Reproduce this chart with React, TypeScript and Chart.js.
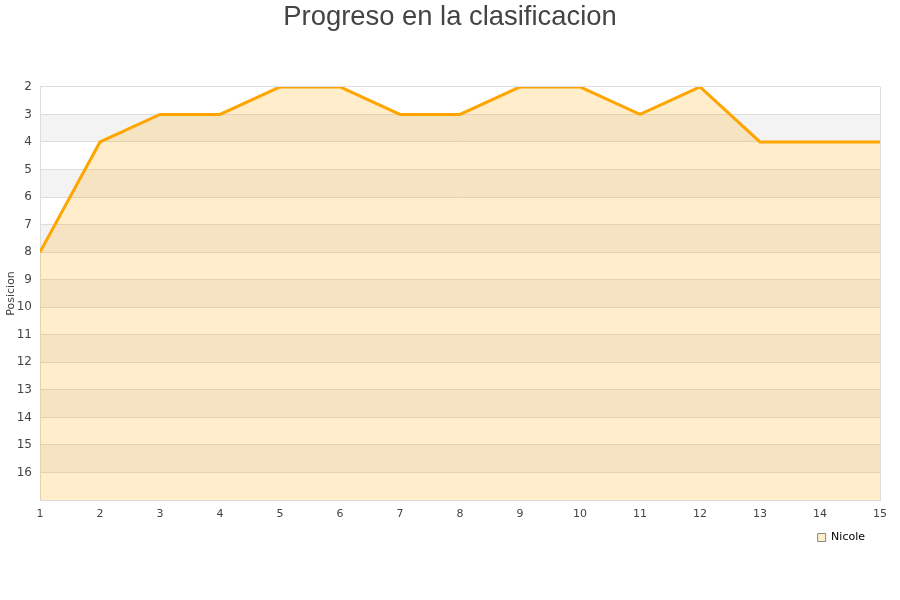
import React, { useEffect, useRef } from "react";
import { Chart, registerables } from "chart.js";

Chart.register(...registerables);

const categories = ["1", "2", "3", "4", "5", "6", "7", "8", "9", "10", "11", "12", "13", "14", "15"];
const nicolePositions = [8, 4, 3, 3, 2, 2, 3, 3, 2, 2, 3, 2, 4, 4, 4];
const seriesName = "Nicole";
const chartTitle = "Progreso en la clasificacion";
const yTitle = "Posicion";
const yMin = 2;
const yMax = 17;

const bandsPlugin = {
  id: "bands",
  afterLayout(chart: any) {
    if (chart.legend) {
      chart.legend.right -= 11;
      chart.legend.top -= 6;
      chart.legend.bottom -= 6;
    }
    if (chart.titleBlock) {
      chart.titleBlock.left = 0;
      chart.titleBlock.right = chart.width;
    }
  },
  beforeDraw(chart: any) {
    const { ctx, chartArea } = chart;
    const y = chart.scales.y;
    ctx.save();
    ctx.fillStyle = "#ffffff";
    ctx.fillRect(chartArea.left, chartArea.top, chartArea.right - chartArea.left, chartArea.bottom - chartArea.top);
    ctx.fillStyle = "#f3f3f3";
    for (let v = 3; v < yMax; v += 2) {
      const a = y.getPixelForValue(v);
      const b = y.getPixelForValue(v + 1);
      ctx.fillRect(chartArea.left, Math.min(a, b), chartArea.right - chartArea.left, Math.abs(b - a));
    }
    ctx.restore();
  },
  afterDraw(chart: any) {
    const { ctx, chartArea } = chart;
    ctx.save();
    ctx.strokeStyle = "#dddddd";
    ctx.lineWidth = 1;
    ctx.beginPath();
    ctx.moveTo(Math.round(chartArea.right) + 0.5, chartArea.top);
    ctx.lineTo(Math.round(chartArea.right) + 0.5, chartArea.bottom);
    ctx.stroke();
    ctx.restore();
  },
};

export default function App() {
  const ref = useRef<HTMLCanvasElement>(null);
  useEffect(() => {
    document.body.style.margin = "0";
    const chart = new Chart(ref.current as HTMLCanvasElement, {
      type: "line",
      data: {
        labels: categories,
        datasets: [
          {
            label: seriesName,
            data: nicolePositions,
            borderColor: "#ffa500",
            backgroundColor: "rgba(255,165,0,0.2)",
            borderWidth: 3,
            pointRadius: 0,
            pointHoverRadius: 0,
            tension: 0,
            fill: "start",
            clip: 0 as any,
          },
        ],
      },
      options: {
        animation: false,
        responsive: false,
        layout: { padding: { left: 0, right: 20, top: 0, bottom: 41 } },
        plugins: {
          title: {
            display: true,
            text: chartTitle,
            color: "#444444",
            font: { family: "'Liberation Sans', Arial, sans-serif", size: 27.4, weight: "normal" },
            padding: { top: 1, bottom: 53 },
          },
          legend: {
            position: "bottom",
            align: "end",
            labels: {
              boxWidth: 8,
              boxHeight: 8,
              color: "#000000",
              font: { family: "'DejaVu Sans', sans-serif", size: 11 },
              padding: 4,
              generateLabels: () => [
                {
                  text: seriesName,
                  fillStyle: "#ffedcc",
                  strokeStyle: "#888888",
                  lineWidth: 1,
                  datasetIndex: 0,
                } as any,
              ],
            },
          },
          tooltip: { enabled: false },
        },
        scales: {
          x: {
            type: "category",
            offset: false,
            grid: { display: false },
            border: { display: true, color: "#dddddd" },
            ticks: {
              color: "#444444",
              font: { family: "'DejaVu Sans', sans-serif", size: 11 },
              maxRotation: 0,
              autoSkip: false,
              padding: 0,
            },
            afterFit: (s: any) => {
              s.height = 34;
            },
          },
          y: {
            reverse: true,
            min: yMin,
            max: yMax,
            ticks: {
              stepSize: 1,
              color: "#444444",
              font: { family: "'DejaVu Sans', sans-serif", size: 12 },
              callback: (v: any) => (v === yMax ? "" : String(v)),
              padding: 8,
            },
            grid: { color: "#dddddd", drawTicks: false },
            border: { display: true, color: "#dddddd" },
            title: {
              display: true,
              text: yTitle,
              color: "#444444",
              font: { family: "'DejaVu Sans', sans-serif", size: 11 },
              padding: { top: 5, bottom: 0 },
            },
            afterFit: (s: any) => {
              s.width = 40;
            },
          },
        },
      },
      plugins: [bandsPlugin],
    });
    return () => chart.destroy();
  }, []);
  return (
    <div style={{ position: "absolute", left: 0, top: 0, width: 900, height: 600 }}>
      <canvas ref={ref} width={900} height={600} />
    </div>
  );
}
